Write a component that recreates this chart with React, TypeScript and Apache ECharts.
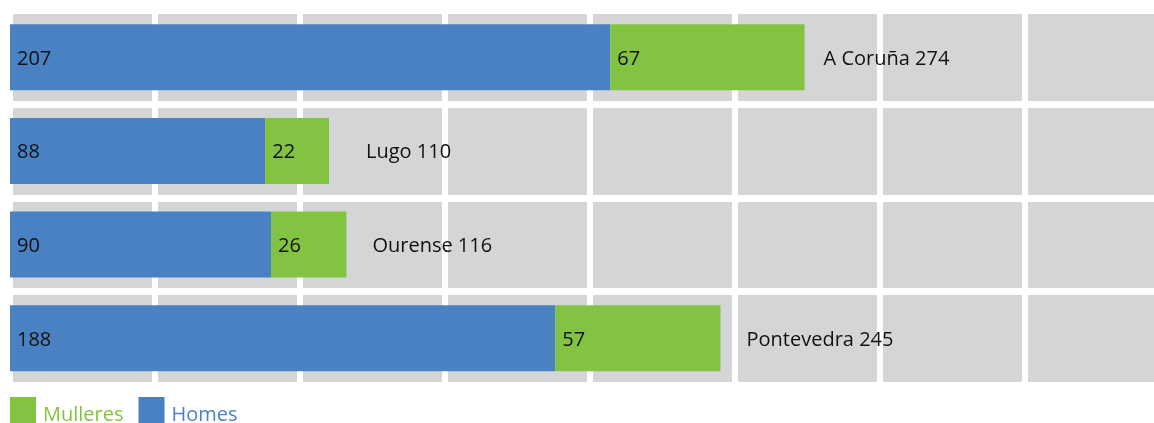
import React, { useEffect, useRef } from "react";
import * as echarts from "echarts";

const provinces = ["A Coruña", "Lugo", "Ourense", "Pontevedra"];
const homes = [207, 88, 90, 188];
const mulleres = [67, 22, 26, 57];
const totals = [274, 110, 116, 245];
const tickInterval = 50;
const axisMax = 400;

// style: extra gap of each total label from the bar end
const totalLabelGap = [19, 37, 26, 26];

const BLUE = "#4a81c2";
const GREEN = "#82c341";
const GRAY = "#d4d5d7";
const FONT = "'Open Sans', 'Noto Sans', sans-serif";

export default function App() {
  const ref = useRef<HTMLDivElement>(null);
  useEffect(() => {
    if (!ref.current) return;
    const chart = echarts.init(ref.current, null, { renderer: "svg" });
    chart.setOption({
      animation: false,
      textStyle: { fontFamily: FONT },
      grid: {
        show: true,
        left: 10,
        right: 0,
        top: 10.5,
        height: 374.5,
        outerBoundsMode: "none",
        backgroundColor: GRAY,
        borderWidth: 0,
        containLabel: false,
      },
      legend: {
        left: 10,
        top: 397,
        padding: 0,
        icon: "rect",
        itemWidth: 26,
        itemHeight: 26,
        itemGap: 15,
        formatter: "{t|{name}}",
        textStyle: {
          fontSize: 20,
          fontFamily: FONT,
          rich: { t: { fontSize: 20, fontFamily: FONT, padding: [7, 0, 0, 2] } },
        },
        data: [
          { name: "Mulleres", textStyle: { color: GREEN } },
          { name: "Homes", textStyle: { color: BLUE } },
        ],
      },
      xAxis: {
        type: "value",
        min: 0,
        max: axisMax,
        interval: tickInterval,
        axisLine: { show: false },
        axisTick: { show: false },
        axisLabel: { show: false },
        splitLine: { show: true, lineStyle: { color: "#ffffff", width: 6 } },
      },
      yAxis: {
        type: "category",
        inverse: true,
        data: provinces,
        axisLine: { show: false },
        axisTick: { show: false },
        axisLabel: { show: false },
        splitLine: { show: true, lineStyle: { color: "#ffffff", width: 7 } },
      },
      series: [
        {
          name: "Homes",
          type: "bar",
          stack: "total",
          barWidth: 66,
          itemStyle: { color: BLUE },
          label: {
            show: true,
            position: "insideLeft",
            distance: 7,
            color: "#111",
            fontSize: 20,
            fontFamily: FONT,
            padding: [4, 0, 0, 0],
          },
          data: homes,
        },
        {
          name: "Mulleres",
          type: "bar",
          stack: "total",
          barWidth: 66,
          itemStyle: { color: GREEN },
          label: {
            show: true,
            position: "insideLeft",
            distance: 7,
            color: "#111",
            fontSize: 20,
            fontFamily: FONT,
            padding: [4, 0, 0, 0],
          },
          data: mulleres,
        },
        {
          name: "Total",
          type: "bar",
          stack: "total",
          barWidth: 66,
          itemStyle: { color: "transparent" },
          silent: true,
          data: totals.map((t, i) => ({
            value: 0,
            label: {
              show: true,
              position: "right",
              distance: totalLabelGap[i],
              color: "#111",
              fontSize: 20,
              fontFamily: FONT,
              padding: [4, 0, 0, 0],
              formatter: () => `${provinces[i]} ${t}`,
            },
          })),
        },
      ],
    });
    return () => chart.dispose();
  }, []);
  return (
    <div
      ref={ref}
      style={{ position: "fixed", left: 0, top: 0, width: 1170, height: 423 }}
    />
  );
}
